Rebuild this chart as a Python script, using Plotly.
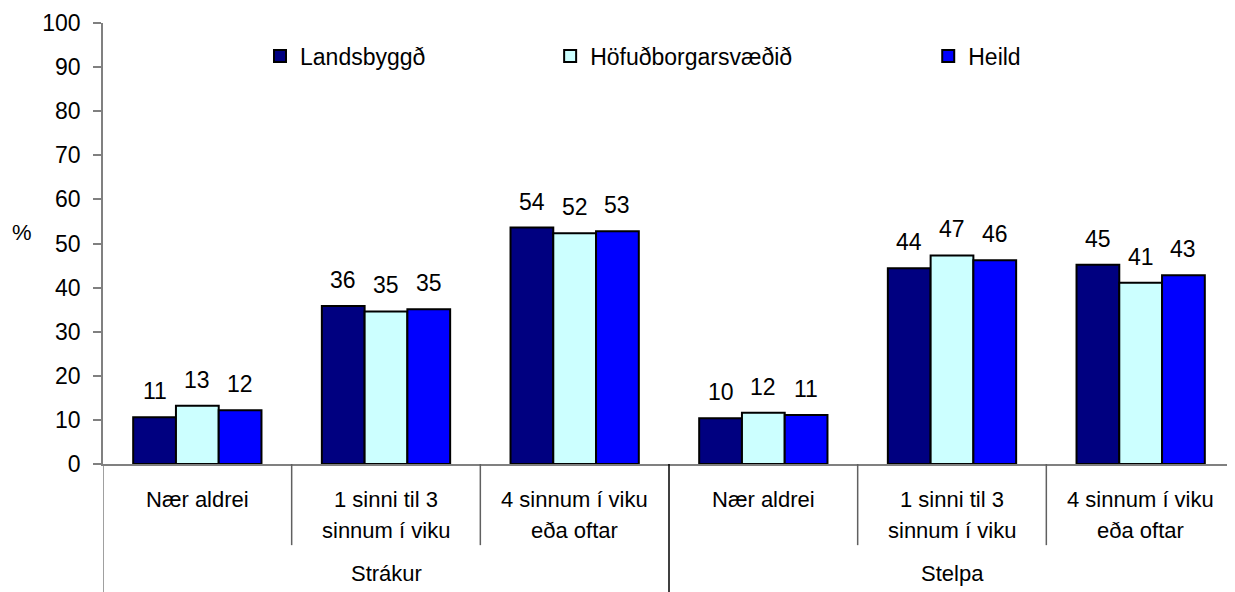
import plotly.graph_objects as go

groups = ["Strákur", "Stelpa"]
categories = ["Nær aldrei", "1 sinni til 3<br>sinnum í viku", "4 sinnum í viku<br>eða oftar",
              "Nær aldrei", "1 sinni til 3<br>sinnum í viku", "4 sinnum í viku<br>eða oftar"]
series_names = ["Landsbyggð", "Höfuðborgarsvæðið", "Heild"]
landsbyggd = [10.6, 35.85, 53.6, 10.4, 44.4, 45.2]
hofudborg = [13.2, 34.6, 52.3, 11.6, 47.3, 41.1]
heild = [12.2, 35.1, 52.8, 11.1, 46.2, 42.8]
colors = ["#000080", "#CCFFFF", "#0000FF"]
y_ticks = list(range(0, 101, 10))

series = [landsbyggd, hofudborg, heild]
FONT = "Arial, Liberation Sans, sans-serif"
FS = 23
FS_CAT = 22

x_idx = list(range(len(categories)))
bargap = 0.32
bw = (1 - bargap) / 3

fig = go.Figure()
legend_ids = ["legend", "legend2", "legend3"]
for j, (name, vals, col) in enumerate(zip(series_names, series, colors)):
    fig.add_trace(go.Bar(
        x=x_idx, y=vals, name=name, marker=dict(color=col, line=dict(color="black", width=2)),
        legend=legend_ids[j], showlegend=True, hoverinfo="x+y",
    ))

annotations = []
for j, vals in enumerate(series):
    for i, v in enumerate(vals):
        annotations.append(dict(
            x=i + (j - 1) * bw, y=v, xref="x", yref="y", text=str(int(round(v))),
            showarrow=False, yanchor="bottom", yshift=11,
            font=dict(family=FONT, size=FS, color="black"),
        ))

# category labels (one annotation per line)
line_y = [-0.0816, -0.15]
for i, c in enumerate(categories):
    for k, part in enumerate(c.split("<br>")):
        annotations.append(dict(
            x=i, y=line_y[k], xref="x", yref="paper", text=part, showarrow=False,
            yanchor="middle", font=dict(family=FONT, size=FS_CAT, color="black"),
        ))
# group labels
for g, name in enumerate(groups):
    annotations.append(dict(
        x=1 + 3 * g, y=-0.249, xref="x", yref="paper", text=name, showarrow=False,
        yanchor="middle", font=dict(family=FONT, size=FS_CAT, color="black"),
    ))
# y-axis title
annotations.append(dict(
    x=-0.0716, y=0.526, xref="paper", yref="paper", text="%", showarrow=False,
    xanchor="center", yanchor="middle", font=dict(family=FONT, size=FS_CAT, color="black"),
))

shapes = []
for b in [0.5, 1.5, 3.5, 4.5]:
    shapes.append(dict(type="line", xref="x", yref="paper", x0=b, x1=b, y0=0, y1=-0.184,
                       line=dict(color="#606060", width=1.5)))
for b, col in [(-0.5, "#808080"), (2.5, "black")]:
    shapes.append(dict(type="line", xref="x", yref="paper", x0=b, x1=b, y0=0, y1=-0.35,
                       line=dict(color=col, width=1.5)))

legend_common = dict(orientation="h", yanchor="middle", y=0.925, xanchor="left",
                     font=dict(family=FONT, size=FS, color="black"), bgcolor="rgba(0,0,0,0)")

fig.update_layout(
    width=1227, height=584,
    margin=dict(l=95, r=0, t=15, b=128),
    paper_bgcolor="white", plot_bgcolor="white",
    barmode="group", bargap=bargap, bargroupgap=0,
    showlegend=True,
    font=dict(family=FONT, size=FS, color="black"),
    xaxis=dict(range=[-0.5, 5.5], showticklabels=False, ticks="", showline=True,
               linecolor="#808080", linewidth=1.5, showgrid=False, zeroline=False),
    yaxis=dict(range=[0, 100], tickvals=y_ticks, ticks="outside", ticklen=8, tickcolor="#808080",
               tickwidth=1.5, showline=True, linecolor="#808080", linewidth=1.5, showgrid=False,
               zeroline=False, ticklabelstandoff=8,
               tickfont=dict(family=FONT, size=FS, color="black")),
    legend=dict(x=0.1387, **legend_common),
    legend2=dict(x=0.395, **legend_common),
    legend3=dict(x=0.729, **legend_common),
    annotations=annotations,
    shapes=shapes,
)

fig.write_html("out.html")
